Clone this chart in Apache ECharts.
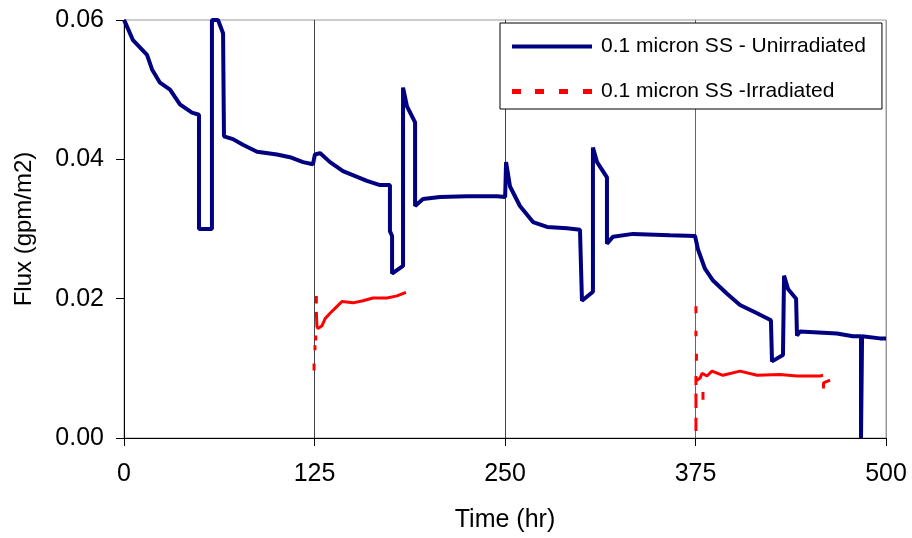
<!DOCTYPE html>
<html>
<head>
<meta charset="utf-8">
<script src="https://cdn.jsdelivr.net/npm/echarts@6/dist/echarts.min.js"></script>
<style>
  html, body { margin: 0; padding: 0; background: #fff; }
  #chart { width: 912px; height: 538px; }
</style>
</head>
<body>
<div id="chart"></div>
<script>
// axis ticks
const xTicks = [0, 125, 250, 375, 500];
const yTicks = [0, 0.02, 0.04, 0.06];

const seriesNames = ['0.1 micron SS - Unirradiated', '0.1 micron SS -Irradiated'];

// [time (hr), flux (gpm/m2)]
const unirradiated = [
  [0, 0.0600], [0.7, 0.0597], [5.9, 0.0571], [15.1, 0.0550], [18.4, 0.0529], [23.6, 0.0510],
  [30.2, 0.0500], [36.7, 0.0479], [44.6, 0.0467], [49.2, 0.0464], [49.2, 0.0300], [57.7, 0.0300],
  [57.7, 0.0600], [61.7, 0.0600], [65, 0.0581], [65.6, 0.0433], [71.5, 0.0429], [78, 0.0421],
  [87.3, 0.0411], [100.4, 0.0407], [108.9, 0.0403], [117.5, 0.0396], [124, 0.0393], [125.3, 0.0407],
  [128.6, 0.0409], [135.2, 0.0396], [143.7, 0.0383], [159.4, 0.0369], [168, 0.0363], [174.5, 0.0363],
  [174.5, 0.0297], [175.9, 0.0290], [175.9, 0.0236], [183.1, 0.0247], [183.1, 0.0503], [185.7, 0.0476],
  [191, 0.0453], [191, 0.0333], [196.2, 0.0343], [207.3, 0.0346], [225, 0.0347], [244.8, 0.0347],
  [250.1, 0.0346], [250.7, 0.0396], [253.3, 0.0361], [259.8, 0.0333], [268.4, 0.0310], [277.6, 0.0303],
  [290.7, 0.0301], [299.2, 0.0299], [300.5, 0.0197], [307.7, 0.0210], [307.7, 0.0417], [310.4, 0.0396],
  [316.9, 0.0374], [316.9, 0.0279], [320.9, 0.0289], [334, 0.0293], [358.3, 0.0291], [374.7, 0.0290],
  [376.6, 0.0271], [381.2, 0.0243], [386.5, 0.0226], [395.7, 0.0207], [404.2, 0.0191], [415.4, 0.0179],
  [424.5, 0.0169], [425.2, 0.0110], [432.4, 0.0119], [433.1, 0.0233], [435.7, 0.0214], [441, 0.0200],
  [441.6, 0.0147], [443.6, 0.0153], [467.8, 0.0150], [478.3, 0.0146], [483.6, 0.0146], [483.6, 0],
  [484.3, 0], [484.3, 0.0146], [496, 0.0143], [500, 0.0143]
];

// '-' rows break the line between separate dashes
const irradiated = [
  [124.7, 0.0107], [124.7, 0.0097], ['-', '-'],
  [125.3, 0.0133], [125.3, 0.0126], ['-', '-'],
  [125.8, 0.0147], [125.8, 0.0140], ['-', '-'],
  [126.2, 0.0204], [126.2, 0.0193], ['-', '-'],
  [126.2, 0.0181], [126.6, 0.0160], [127.3, 0.0157], [129.9, 0.0161], [131.9, 0.0171], [135.2, 0.0179],
  [139.8, 0.0189], [143, 0.0196], [150.3, 0.0194], [156.8, 0.0197], [163.4, 0.0201], [172.6, 0.0201],
  [179.1, 0.0204], [185, 0.0209], ['-', '-'],
  [375.3, 0.0189], [375.3, 0.0179], ['-', '-'],
  [375.3, 0.0154], [375.3, 0.0146], ['-', '-'],
  [375.6, 0.0121], [375.6, 0.0111], ['-', '-'],
  [375.3, 0.0089], [375.3, 0.0076], ['-', '-'],
  [375.3, 0.0064], [375.3, 0.0043], ['-', '-'],
  [375.3, 0.0029], [375.3, 0.0010], ['-', '-'],
  [379.9, 0.0066], [379.9, 0.0055], ['-', '-'],
  [376, 0.0083], [378, 0.0086], [379.3, 0.0093], [382.5, 0.0089], [385.8, 0.0096], [393, 0.0090],
  [404.2, 0.0096], [415.4, 0.0090], [430.4, 0.0091], [441.6, 0.0089], [456.7, 0.0089], [458.7, 0.0090],
  ['-', '-'],
  [459, 0.0071], [459, 0.0079], [460, 0.0079], [463.3, 0.0083]
];

const font = 'Liberation Sans, Arial, sans-serif';
let chart = echarts.init(document.getElementById('chart'));
chart.setOption({
  animation: false,
  textStyle: { fontFamily: font },
  grid: {
    left: 124, right: 26, top: 20, bottom: 98,
    show: true, borderColor: '#999', borderWidth: 1
  },
  legend: {
    orient: 'vertical',
    left: 500, top: 23,
    padding: [13, 16, 7, 12],
    itemGap: 24,
    itemWidth: 80, itemHeight: 5,
    borderColor: '#000', borderWidth: 1,
    backgroundColor: '#fff',
    textStyle: { fontFamily: font, fontSize: 21, lineHeight: 21, color: '#000', padding: [0, 0, 0, 4] },
    data: [
      { name: seriesNames[0], icon: 'path://M0,0h80v4h-80z' },
      { name: seriesNames[1], icon: 'path://M0,0h9v5h-9z M23,0h9v5h-9z M47,0h9v5h-9z M71,0h9v5h-9z' }
    ]
  },
  xAxis: {
    type: 'value',
    min: xTicks[0], max: xTicks[xTicks.length - 1], interval: 125,
    name: 'Time (hr)', nameLocation: 'middle', nameGap: 70,
    nameTextStyle: { fontSize: 25, color: '#000', fontFamily: font },
    axisLine: { lineStyle: { color: '#000', width: 1 } },
    axisTick: { show: true, length: 8, lineStyle: { color: '#000' } },
    axisLabel: { fontSize: 25, color: '#000', margin: 24, fontFamily: font },
    splitLine: { show: true, lineStyle: { color: ['#444', '#444', '#444', '#666', '#999'], width: 1 } }
  },
  yAxis: {
    type: 'value',
    min: yTicks[0], max: yTicks[yTicks.length - 1], interval: 0.02,
    name: 'Flux (gpm/m2)', nameLocation: 'middle', nameGap: 88,
    nameTextStyle: { fontSize: 24, color: '#000', fontFamily: font },
    axisLine: { show: true, lineStyle: { color: '#000', width: 1 } },
    axisTick: { show: true, length: 8, lineStyle: { color: '#000' } },
    axisLabel: { fontSize: 25, color: '#000', margin: 20, fontFamily: font,
      formatter: v => v.toFixed(2) },
    splitLine: { show: false }
  },
  series: [
    {
      name: seriesNames[0],
      type: 'line',
      data: unirradiated,
      showSymbol: false,
      symbol: 'none',
      color: '#000080',
      lineStyle: { color: '#000080', width: 4 },
      clip: true
    },
    {
      name: seriesNames[1],
      type: 'line',
      data: irradiated,
      showSymbol: false,
      symbol: 'none',
      connectNulls: false,
      color: '#ff0000',
      lineStyle: { color: '#ff0000', width: 3 },
      clip: true
    }
  ]
});
</script>
</body>
</html>
